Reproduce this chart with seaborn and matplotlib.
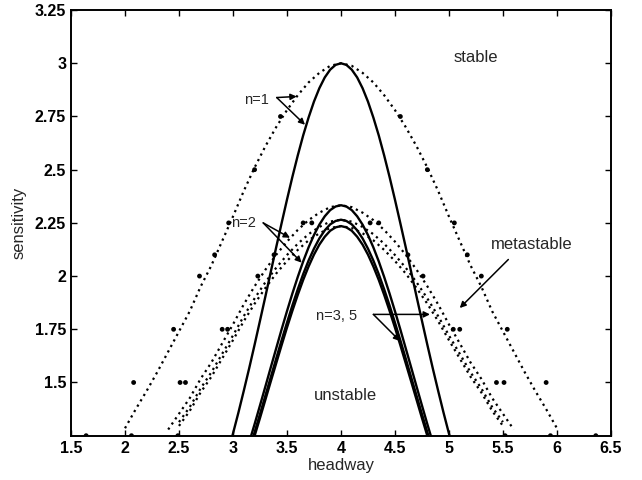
import numpy as np
import pandas as pd
import seaborn as sns
import matplotlib.pyplot as plt

# half profiles: offset from headway 4 -> sensitivity
d_solid = [0, 0.05, 0.10, 0.15, 0.20, 0.25, 0.30, 0.35, 0.40, 0.45, 0.50,
           0.55, 0.60, 0.65, 0.70, 0.75, 0.80, 0.85, 0.90, 0.95, 1.00, 1.05]
neutral_n1 = [3.000, 2.9925, 2.970, 2.9335, 2.883, 2.820, 2.745, 2.661, 2.567, 2.466, 2.359,
              2.248, 2.135, 2.020, 1.904, 1.790, 1.677, 1.567, 1.461, 1.358, 1.260, 1.166]
neutral_n2 = [2.333, 2.327, 2.310, 2.281, 2.242, 2.193, 2.135, 2.069, 1.996, 1.918, 1.835,
              1.749, 1.660, 1.571, 1.481, 1.392, 1.304, 1.219, 1.136]
neutral_n3 = [2.265, 2.259, 2.243, 2.215, 2.177, 2.129, 2.073, 2.009, 1.938, 1.862, 1.781,
              1.698, 1.612, 1.525, 1.438, 1.351, 1.266, 1.183]
neutral_n5 = [2.235, 2.229, 2.213, 2.185, 2.148, 2.101, 2.045, 1.982, 1.912, 1.837, 1.758,
              1.675, 1.590, 1.505, 1.419, 1.333, 1.249, 1.168]

d_coex = [0, 0.1, 0.2, 0.3, 0.4, 0.5, 0.6, 0.7, 0.8, 0.9, 1.0,
          1.1, 1.2, 1.3, 1.4, 1.5, 1.6, 1.7, 1.8, 1.9, 2.0]
coex_n1 = [3.000, 2.988, 2.955, 2.910, 2.850, 2.780, 2.700, 2.610, 2.510, 2.400, 2.280,
           2.165, 2.050, 1.950, 1.835, 1.740, 1.645, 1.550, 1.460, 1.375, 1.285]
coex_n2 = [2.333, 2.324, 2.298, 2.263, 2.217, 2.162, 2.100, 2.030, 1.952, 1.867, 1.773,
           1.684, 1.594, 1.517, 1.427, 1.353, 1.279]
coex_n3 = [2.265, 2.256, 2.231, 2.197, 2.152, 2.099, 2.039, 1.971, 1.895, 1.812, 1.721,
           1.635, 1.548, 1.472, 1.385, 1.314]
coex_n5 = [2.235, 2.226, 2.201, 2.168, 2.123, 2.071, 2.012, 1.944, 1.870, 1.788, 1.699,
           1.613, 1.527, 1.453, 1.367, 1.296]

# simulation points
sim_h = [1.64, 2.06, 2.49, 5.52, 5.94, 6.36,
         2.08, 2.51, 2.56, 5.44, 5.51, 5.90,
         2.45, 2.90, 2.95, 5.04, 5.10, 5.54,
         2.69, 3.23, 4.76, 5.30,
         2.83, 3.38, 4.62, 5.17,
         2.96, 3.65, 3.73, 4.27, 4.35, 5.05,
         3.20, 4.80,
         3.44, 4.55]
sim_a = [1.25] * 6 + [1.5] * 6 + [1.75] * 6 + [2.0] * 4 + [2.1] * 4 + [2.25] * 6 + [2.5] * 2 + [2.75] * 2

xticks = [1.5, 2, 2.5, 3, 3.5, 4, 4.5, 5, 5.5, 6, 6.5]
yticks = [1.5, 1.75, 2, 2.25, 2.5, 2.75, 3, 3.25]


def mirror(d, y):
    d = np.array(d[:len(y)])
    y = np.array(y)
    return np.concatenate([4 - d[::-1], 4 + d[1:]]), np.concatenate([y[::-1], y[1:]])


sns.set_style('ticks')
plt.rcParams['font.family'] = ['Liberation Sans', 'DejaVu Sans']
plt.rcParams['xtick.direction'] = 'in'
plt.rcParams['ytick.direction'] = 'in'

fig = plt.figure(figsize=(6.42, 4.8), dpi=100)
ax = fig.add_axes([0.1106, 0.0923, 0.841, 0.8867])

for y in [neutral_n1, neutral_n2, neutral_n3, neutral_n5]:
    xs, ys = mirror(d_solid, y)
    sns.lineplot(x=xs, y=ys, sort=False, estimator=None, color='k', lw=1.7, ax=ax)

for y in [coex_n1, coex_n2, coex_n3, coex_n5]:
    xs, ys = mirror(d_coex, y)
    sns.lineplot(x=xs, y=ys, sort=False, estimator=None, color='k', lw=1.6,
                 linestyle=(0, (1, 1.8)), ax=ax)

sns.scatterplot(x=sim_h, y=sim_a, color='k', s=12, edgecolor='none', ax=ax)

ax.set_xlim(1.5, 6.5)
ax.set_ylim(1.25, 3.25)
ax.set_xticks(xticks)
ax.set_xticklabels([f'{v:g}' for v in xticks], fontweight='bold')
ax.set_yticks(yticks)
ax.set_yticklabels([f'{v:g}' for v in yticks], fontweight='bold')
ax.tick_params(top=True, right=True, labelsize=11.5, length=4, width=1, colors='k')
for s in ax.spines.values():
    s.set_linewidth(1.4)
    s.set_color('k')

ax.set_xlabel('headway', fontsize=12, labelpad=2)
ax.set_ylabel('sensitivity', fontsize=12, labelpad=6)

ax.text(5.245, 3.025, 'stable', fontsize=12, ha='center', va='center')
ax.text(5.77, 2.148, 'metastable', fontsize=12, ha='center', va='center')
ax.text(4.04, 1.437, 'unstable', fontsize=12, ha='center', va='center')
ax.text(3.22, 2.828, 'n=1', fontsize=10.5, ha='center', va='center')
ax.text(3.10, 2.25, 'n=2', fontsize=10.5, ha='center', va='center')
ax.text(3.96, 1.812, 'n=3, 5', fontsize=10.5, ha='center', va='center')

arrow = dict(arrowstyle='-|>', color='k', lw=1.1, mutation_scale=9, shrinkA=0, shrinkB=0)
for start, tip in [((3.405, 2.839), (3.59, 2.844)), ((3.405, 2.839), (3.667, 2.711)),
                   ((3.28, 2.25), (3.528, 2.18)), ((3.28, 2.25), (3.636, 2.063)),
                   ((4.30, 1.82), (4.824, 1.82)), ((4.30, 1.82), (4.546, 1.695)),
                   ((5.55, 2.078), (5.10, 1.85))]:
    ax.annotate('', xy=tip, xytext=start, arrowprops=arrow)

fig.savefig('out.png', dpi=100)
